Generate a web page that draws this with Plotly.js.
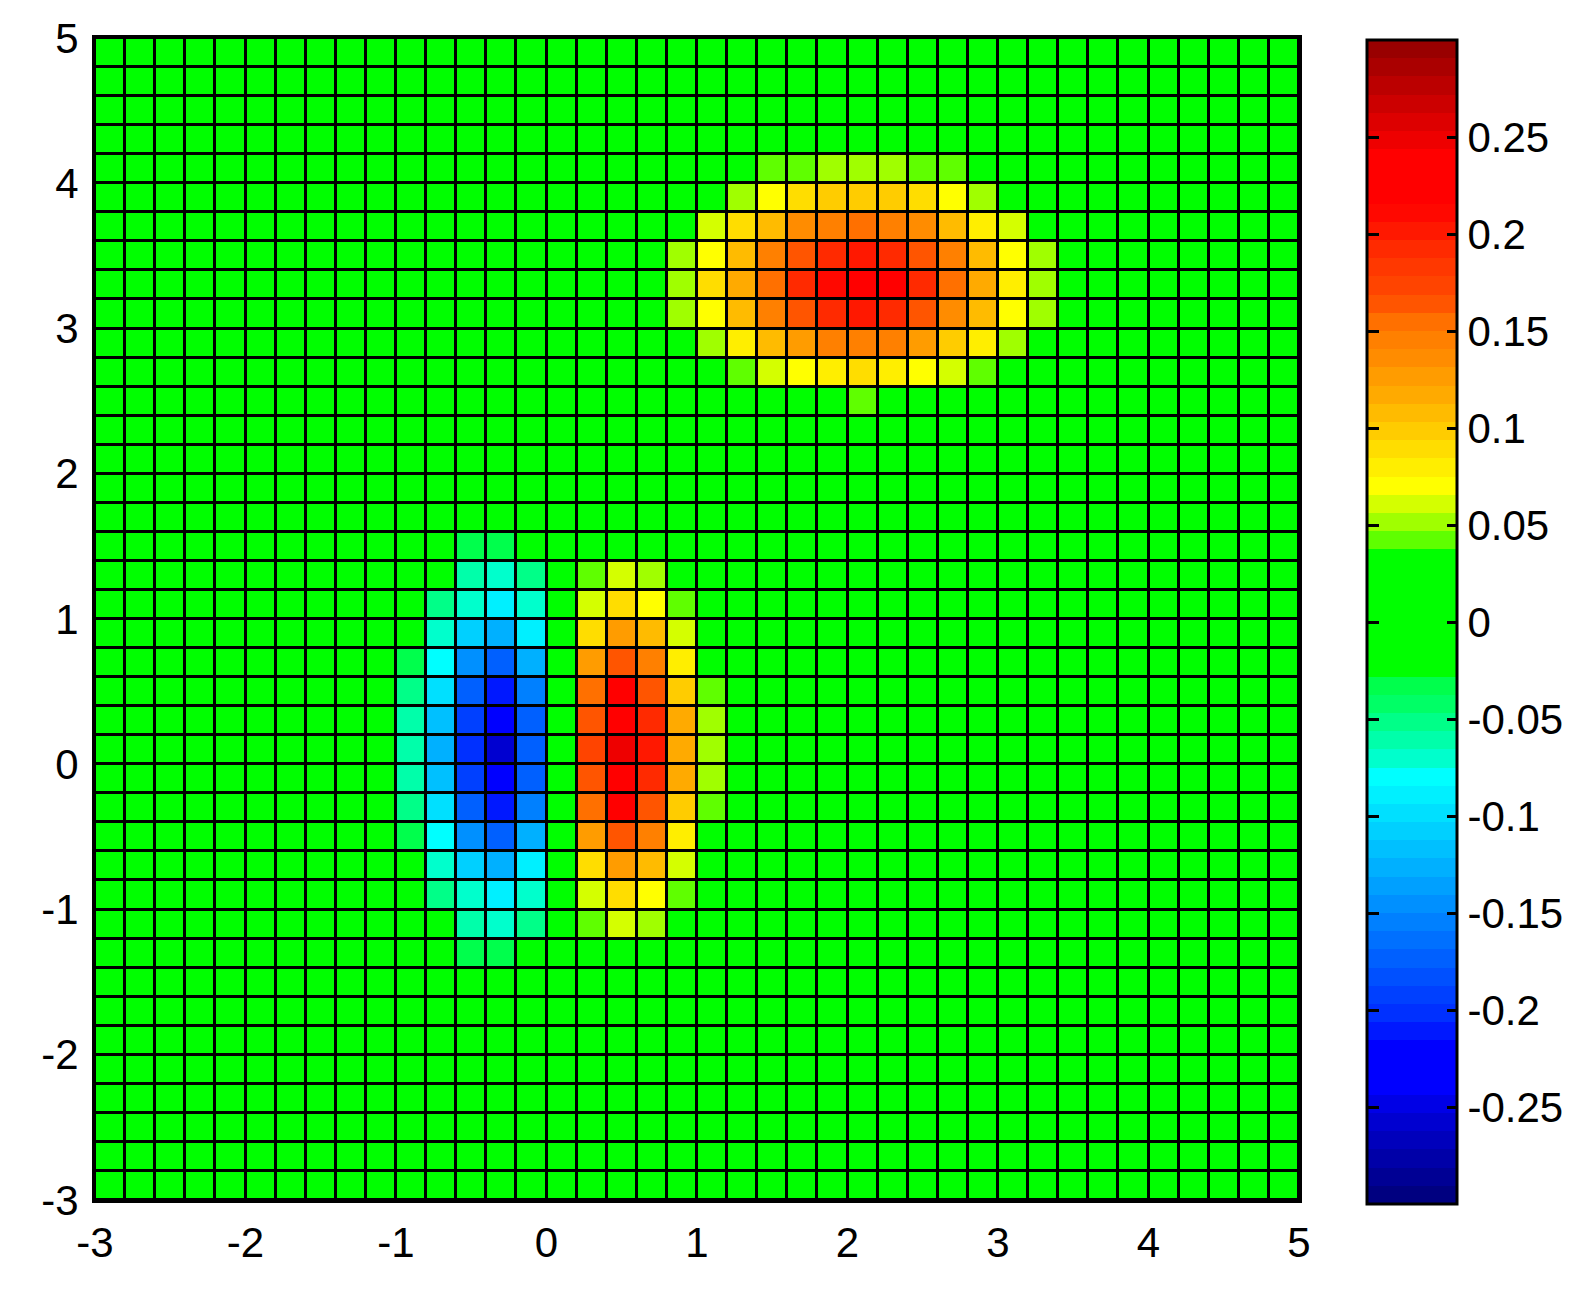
<!DOCTYPE html>
<html>
<head>
<meta charset="utf-8">
<script src="https://cdn.plot.ly/plotly-3.0.1.min.js"></script>
<style>
  html, body { margin: 0; padding: 0; background: #fff; }
  #pcolor-plot { width: 1579px; height: 1300px; }
</style>
</head>
<body>
<div id="pcolor-plot"></div>
<script>
'use strict';

// grid edges (41 points, 40 cells each way)
const xGrid = [-3, -2.8, -2.6, -2.4, -2.2, -2, -1.8, -1.6, -1.4, -1.2, -1, -0.8, -0.6, -0.4, -0.2,
  0, 0.2, 0.4, 0.6, 0.8, 1, 1.2, 1.4, 1.6, 1.8, 2, 2.2, 2.4, 2.6, 2.8, 3, 3.2, 3.4, 3.6, 3.8,
  4, 4.2, 4.4, 4.6, 4.8, 5];
const yGrid = xGrid.slice();

// everything outside the blobs reads as 0 (flat green)
const background = 0;

// blobs, rows listed top to bottom
// topRow = row index counted from the top, leftCol = column index from the left
const topBlob = {
  topRow: 4, leftCol: 19,
  rows: [
    [0, 0, 0, .042, .042, .052, .052, .052, .042, .042, 0, 0, 0],
    [0, 0, .052, .070, .089, .098, .098, .098, .089, .070, .052, 0, 0],
    [0, .061, .089, .108, .136, .145, .155, .145, .136, .108, .080, .061, 0],
    [.052, .070, .108, .145, .164, .192, .202, .192, .164, .145, .108, .070, .052],
    [.052, .089, .117, .155, .192, .211, .220, .220, .192, .155, .117, .080, .052],
    [.052, .070, .108, .145, .164, .192, .202, .192, .164, .136, .108, .070, .052],
    [0, .052, .080, .108, .127, .145, .145, .145, .127, .098, .080, .052, 0],
    [0, 0, .042, .061, .070, .080, .089, .080, .070, .061, .042, 0, 0],
    [0, 0, 0, 0, 0, 0, .042, 0, 0, 0, 0, 0, 0]
  ]
};

const leftBlob = {
  topRow: 17, leftCol: 10,
  rows: [
    [0, 0, -.033, -.033, 0],
    [0, 0, -.061, -.070, -.052],
    [0, -.052, -.070, -.089, -.070],
    [0, -.070, -.108, -.127, -.089],
    [-.033, -.080, -.145, -.173, -.127],
    [-.052, -.098, -.173, -.211, -.155],
    [-.061, -.117, -.192, -.239, -.173],
    [-.061, -.127, -.202, -.258, -.173],
    [-.061, -.117, -.192, -.239, -.173],
    [-.052, -.098, -.173, -.211, -.155],
    [-.033, -.080, -.145, -.173, -.127],
    [0, -.070, -.108, -.127, -.089],
    [0, -.052, -.070, -.089, -.070],
    [0, 0, -.061, -.070, -.052],
    [0, 0, -.033, -.033, 0]
  ]
};

const rightBlob = {
  topRow: 18, leftCol: 16,
  rows: [
    [.042, .061, .052, 0, 0],
    [.061, .089, .070, .042, 0],
    [.089, .127, .108, .061, 0],
    [.127, .164, .145, .080, 0],
    [.155, .220, .164, .098, .042],
    [.164, .230, .192, .117, .052],
    [.173, .248, .202, .117, .052],
    [.164, .230, .192, .117, .052],
    [.155, .220, .164, .098, .042],
    [.127, .164, .145, .080, 0],
    [.089, .127, .108, .061, 0],
    [.061, .089, .070, .042, 0],
    [.042, .061, .052, 0, 0]
  ]
};

const colorRange = [-0.3, 0.3];

const xTickVals = [-3, -2, -1, 0, 1, 2, 3, 4, 5];
const xTickText = ['-3', '-2', '-1', '0', '1', '2', '3', '4', '5'];
const yTickVals = [-3, -2, -1, 0, 1, 2, 3, 4, 5];
const yTickText = ['-3', '-2', '-1', '0', '1', '2', '3', '4', '5'];
const cbTickVals = [-0.25, -0.2, -0.15, -0.1, -0.05, 0, 0.05, 0.1, 0.15, 0.2, 0.25];
const cbTickText = ['-0.25', '-0.2', '-0.15', '-0.1', '-0.05', '0', '0.05', '0.1', '0.15', '0.2', '0.25'];

// 64-step colormap as seen in the colorbar (jet-like, flat green middle)
const cmap = [
  '#000080', '#000094', '#0000a8', '#0000bc', '#0000d0', '#0000e6',
  '#0000ff', '#0000ff', '#0000ff',
  '#0018ff', '#0030ff', '#0040ff', '#0050ff', '#0060ff', '#0070ff', '#0080ff', '#0090ff',
  '#00a0ff', '#00b0ff', '#00c0ff', '#00d0ff', '#00e0ff', '#00f0ff', '#00ffff',
  '#00ffcc', '#00ffaa', '#00ff88', '#00ff66', '#00ff4c',
  '#00ff00', '#00ff00', '#00ff00', '#00ff00', '#00ff00', '#00ff00', '#00ff00',
  '#5fff00', '#a0ff00', '#d4ff00', '#ffff00',
  '#ffee00', '#ffdd00', '#ffcc00', '#ffbb00', '#ffaa00', '#ff9c00', '#ff8c00', '#ff8000',
  '#ff7000', '#ff5500', '#ff4400', '#ff3800', '#ff2a00', '#ff1800', '#ff0800',
  '#ff0000', '#ff0000', '#ff0000',
  '#ee0000', '#dd0000', '#cc0000', '#bb0000', '#aa0000', '#990000'
];

const nCols = xGrid.length - 1;
const nRows = yGrid.length - 1;

const z = [];
for (let r = 0; r < nRows; r++) {
  z.push(new Array(nCols).fill(background));
}
[topBlob, leftBlob, rightBlob].forEach(blob => {
  blob.rows.forEach((row, i) => {
    const r = nRows - 1 - (blob.topRow + i); // z rows go bottom -> top
    row.forEach((v, j) => {
      z[r][blob.leftCol + j] = v;
    });
  });
});

// stepped colorscale
const colorscale = [];
cmap.forEach((c, i) => {
  colorscale.push([i / cmap.length, c]);
  colorscale.push([(i + 1) / cmap.length, c]);
});

const tickFont = { family: 'Liberation Sans, Arial, sans-serif', size: 42, color: '#000' };

const cbShared = {
  xpad: 0,
  y: 0.497,
  yanchor: 'middle',
  ypad: 0,
  len: 1164,
  lenmode: 'pixels',
  thicknessmode: 'pixels',
  tickmode: 'array',
  tickvals: cbTickVals,
  ticklen: 11,
  tickwidth: 3,
  tickcolor: '#000'
};

const data = [{
  type: 'heatmap',
  x: xGrid,
  y: yGrid,
  z: z,
  zmin: colorRange[0],
  zmax: colorRange[1],
  colorscale: colorscale,
  xgap: 3,
  ygap: 3,
  hoverinfo: 'skip',
  colorbar: Object.assign({}, cbShared, {
    x: 1.0563,
    xanchor: 'left',
    thickness: 90,
    outlinecolor: '#000',
    outlinewidth: 3,
    ticktext: cbTickText,
    ticks: 'inside',
    tickfont: tickFont
  })
}, {
  // invisible copy, only used for the tick marks on the left edge of the colorbar
  type: 'heatmap',
  x: xGrid,
  y: yGrid,
  z: z,
  zmin: colorRange[0],
  zmax: colorRange[1],
  colorscale: [[0, '#000'], [1, '#000']],
  opacity: 0,
  hoverinfo: 'skip',
  colorbar: Object.assign({}, cbShared, {
    x: 1.0559,
    xanchor: 'left',
    thickness: 2,
    outlinewidth: 0,
    ticks: 'outside',
    showticklabels: false
  })
}];

const layout = {
  width: 1579,
  height: 1300,
  margin: { l: 95, r: 280, t: 38, b: 100, autoexpand: false },
  paper_bgcolor: '#fff',
  plot_bgcolor: '#000',
  showlegend: false,
  xaxis: {
    range: [xGrid[0], xGrid[xGrid.length - 1]],
    tickmode: 'array',
    tickvals: xTickVals,
    ticktext: xTickText,
    ticks: '',
    ticklabelstandoff: 4,
    showgrid: false,
    zeroline: false,
    showline: true,
    mirror: true,
    linecolor: '#000',
    linewidth: 3,
    tickfont: tickFont
  },
  yaxis: {
    range: [yGrid[0], yGrid[yGrid.length - 1]],
    tickmode: 'array',
    tickvals: yTickVals,
    ticktext: yTickText,
    ticks: '',
    ticklabelstandoff: 5,
    showgrid: false,
    zeroline: false,
    showline: true,
    mirror: true,
    linecolor: '#000',
    linewidth: 3,
    tickfont: tickFont
  }
};

Plotly.newPlot('pcolor-plot', data, layout, { displayModeBar: false, staticPlot: true });
</script>
</body>
</html>
